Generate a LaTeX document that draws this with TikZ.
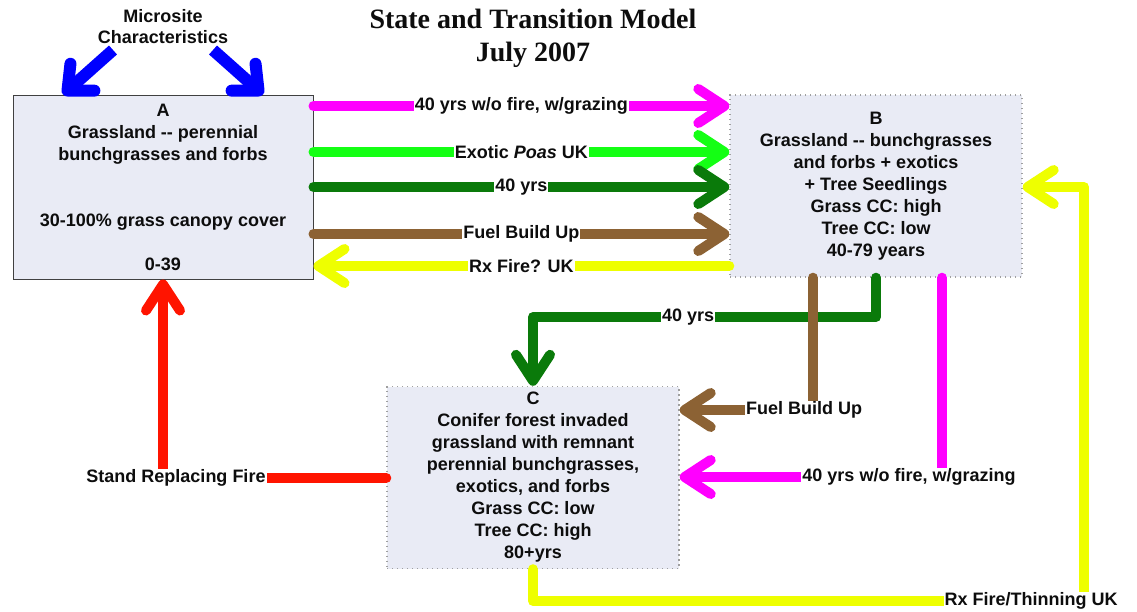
\documentclass[tikz,border=0pt]{standalone}
\usepackage{fontspec}
\setmainfont{Liberation Sans}
\newfontfamily\titlefont{Liberation Serif}
\usetikzlibrary{arrows.meta}
\definecolor{boxfill}{RGB}{233,235,245}
\definecolor{cMag}{RGB}{255,0,255}
\definecolor{cLime}{RGB}{20,255,20}
\definecolor{cDark}{RGB}{10,122,10}
\definecolor{cBrown}{RGB}{140,98,52}
\definecolor{cYel}{RGB}{238,255,0}
\definecolor{cRed}{RGB}{255,20,0}
\definecolor{cBlue}{RGB}{0,0,255}
\pgfdeclarelayer{front}
\pgfsetlayers{main,front}
\begin{document}
\begin{tikzpicture}[x=1pt,y=-1pt,
  every node/.style={font=\fontsize{18}{22}\selectfont\bfseries, text=black!95},
  statebox/.style={fill=boxfill, align=center, minimum width=292pt, minimum height=182pt, inner sep=0pt},
  dotborder/.style={draw=gray!75, line width=1.4pt, dash pattern=on 1.4pt off 3.6pt},
  flow/.style={line width=10pt, line cap=round, line join=round},
  arr/.style={-{Straight Barb[length=26pt,width=34pt,round]}},
  lbl/.style={fill=white, inner sep=1pt},
]
\useasboundingbox (0,0) rectangle (1137,611);

% title and microsite label
\node[font=\titlefont\fontsize{28}{33}\selectfont\bfseries, align=center] (title) at (533,38) {State and Transition Model\\July 2007};
\node[align=center, font=\fontsize{18}{21}\selectfont\bfseries] (micro) at (163,27) {Microsite\\Characteristics};

% states
\node[statebox, draw=black!75, line width=1pt, minimum width=300pt, minimum height=184pt] (A) at (163,187)
  {A\\Grassland -{}- perennial\\bunchgrasses and forbs\\[44pt]30-100\% grass canopy cover\\[22pt]0-39};
\node[statebox, dotborder] (B) at (876,186)
  {B\\Grassland -{}- bunchgrasses\\and forbs + exotics\\+ Tree Seedlings\\Grass CC: high\\Tree CC: low\\40-79 years};
\node[statebox, dotborder] (C) at (533,477.5)
  {C\\Conifer forest invaded\\grassland with remnant\\perennial bunchgrasses,\\exotics, and forbs\\Grass CC: low\\Tree CC: high\\80+yrs};

% labels standing at corners of connectors
\begin{pgfonlayer}{front}
\node[lbl] (fb2) at (804,410) {Fuel Build Up};
\node[lbl] (mg2) at (909,477) {40 yrs w/o fire, w/grazing};
\node[lbl] (srf) at (176,478) {Stand Replacing Fire};
\node[lbl] (rxt) at (1031,601) {Rx Fire/Thinning UK};
\end{pgfonlayer}

\coordinate (mL) at (113,50);
\coordinate (mR) at (213,50);
\coordinate (yc) at (1084,187);

% microsite arrows
\draw[line width=12pt, cBlue, -{Straight Barb[length=20pt,width=36pt,round]}] (mL) -- (A.north -| 63,0);
\draw[line width=12pt, cBlue, -{Straight Barb[length=20pt,width=36pt,round]}] (mR) -- (A.north -| 263,0);

% A <-> B
\draw[flow, cMag, arr] (A.east |- 0,106) -- node[lbl]{40 yrs w/o fire, w/grazing} (B.west |- 0,106);
\draw[flow, cLime, arr] (A.east |- 0,152) -- node[lbl]{Exotic \textit{Poas} UK} (B.west |- 0,152);
\draw[flow, cDark, arr] (A.east |- 0,187) -- node[lbl]{40 yrs} (B.west |- 0,187);
\draw[flow, cBrown, arr] (A.east |- 0,234) -- node[lbl]{Fuel Build Up} (B.west |- 0,234);
\draw[flow, cYel, arr] (B.west |- 0,266) -- node[lbl]{Rx Fire? UK} (A.east |- 0,266);

% B -> C
\draw[flow, cDark, arr] (B.south) -- (876,317) -- node[lbl, pos=0.548]{40 yrs} (533,317) -- (C.north);
\draw[flow, cBrown] (B.south -| 813,0) -- (fb2.north -| 813,0);
\draw[flow, cBrown, arr] (fb2.west) -- (C.east |- fb2.west);
\draw[flow, cMag] (B.south -| 942,0) -- (mg2.north -| 942,0);
\draw[flow, cMag, arr] (mg2.west) -- (C.east |- mg2.west);

% C -> A
\draw[flow, cRed] (C.west |- srf) -- (srf.east);
\draw[flow, cRed, arr] (srf.north -| A.south) -- (A.south);

% C -> B
\draw[flow, cYel] (C.south) -- (C.south |- rxt) -- (rxt.west);
\draw[flow, cYel, arr] (rxt.north -| yc) -- (yc) -- (B.east |- yc);
\end{tikzpicture}
\end{document}
